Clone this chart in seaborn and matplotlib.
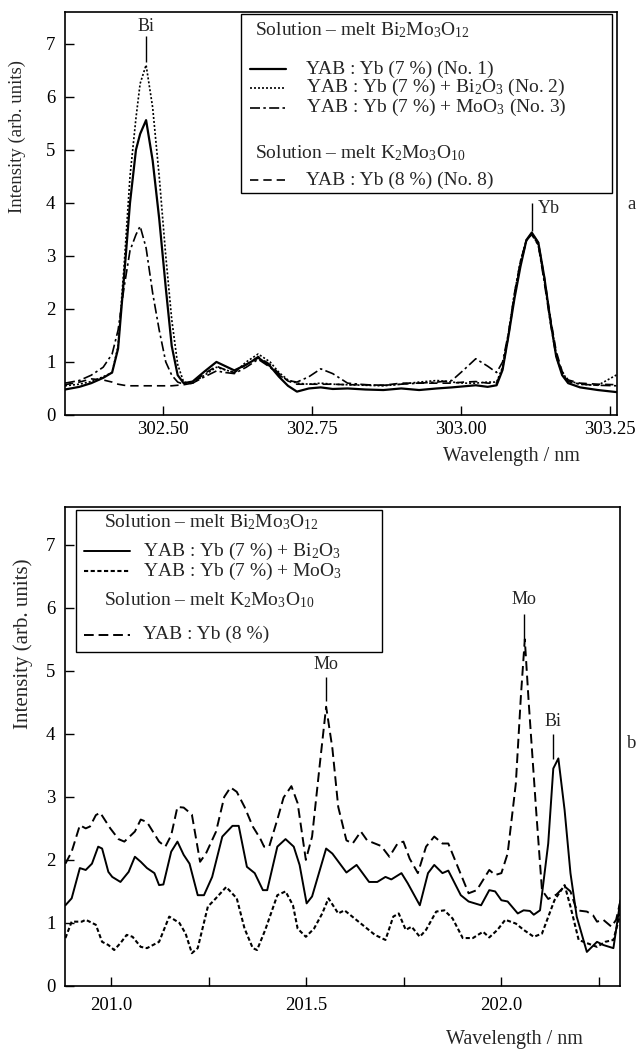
import numpy as np
import pandas as pd
import seaborn as sns
import matplotlib
matplotlib.use("Agg")
import matplotlib.pyplot as plt
from matplotlib.lines import Line2D
from matplotlib.patches import Rectangle

# ---------------- data: panel a (Yb / Bi region) ----------------
wl_a = [302.336, 302.36, 302.38, 302.40, 302.415, 302.425, 302.435, 302.445, 302.455, 302.462,
        302.472, 302.483, 302.494, 302.505, 302.515, 302.525, 302.535, 302.55, 302.57, 302.59,
        302.605, 302.62, 302.64, 302.66, 302.68, 302.695, 302.71, 302.725, 302.745, 302.765,
        302.785, 302.81, 302.84, 302.87, 302.90, 302.93, 302.96, 302.985, 303.005, 303.025,
        303.045, 303.06, 303.07, 303.08, 303.09, 303.10, 303.11, 303.119, 303.13, 303.14,
        303.15, 303.16, 303.17, 303.18, 303.20, 303.23, 303.262]

no1 = [0.48, 0.53, 0.60, 0.70, 0.80, 1.25, 2.6, 4.0, 5.0, 5.3,
       5.56, 4.8, 3.7, 2.4, 1.3, 0.75, 0.60, 0.63, 0.82, 1.00,
       0.92, 0.84, 0.95, 1.08, 0.92, 0.72, 0.55, 0.44, 0.50, 0.52,
       0.49, 0.50, 0.48, 0.47, 0.50, 0.47, 0.50, 0.52, 0.54, 0.56,
       0.53, 0.56, 0.85, 1.5, 2.2, 2.8, 3.3, 3.44, 3.25, 2.6,
       1.8, 1.1, 0.75, 0.60, 0.52, 0.47, 0.43]

no2 = [0.55, 0.58, 0.63, 0.72, 0.80, 1.3, 2.8, 4.5, 5.6, 6.25,
       6.6, 5.8, 4.5, 3.0, 1.8, 0.95, 0.62, 0.60, 0.75, 0.90,
       0.85, 0.80, 1.00, 1.15, 1.00, 0.80, 0.66, 0.60, 0.58, 0.60,
       0.58, 0.57, 0.56, 0.55, 0.58, 0.62, 0.65, 0.62, 0.60, 0.60,
       0.62, 0.62, 0.90, 1.55, 2.3, 2.9, 3.3, 3.42, 3.2, 2.55,
       1.8, 1.15, 0.80, 0.65, 0.58, 0.56, 0.76]

no3 = [0.60, 0.65, 0.75, 0.90, 1.15, 1.6, 2.4, 3.1, 3.4, 3.56,
       3.15, 2.3, 1.6, 1.0, 0.75, 0.62, 0.58, 0.60, 0.72, 0.83,
       0.80, 0.78, 0.90, 1.05, 0.90, 0.75, 0.65, 0.62, 0.72, 0.87,
       0.78, 0.60, 0.57, 0.56, 0.58, 0.60, 0.62, 0.65, 0.85, 1.06,
       0.92, 0.80, 1.0, 1.55, 2.3, 2.9, 3.3, 3.40, 3.2, 2.5,
       1.75, 1.1, 0.78, 0.63, 0.58, 0.56, 0.55]

no8 = [0.57, 0.62, 0.68, 0.66, 0.62, 0.58, 0.56, 0.55, 0.55, 0.55,
       0.55, 0.55, 0.55, 0.55, 0.55, 0.56, 0.57, 0.60, 0.78, 0.92,
       0.85, 0.80, 0.95, 1.10, 0.95, 0.78, 0.64, 0.58, 0.58, 0.58,
       0.58, 0.57, 0.57, 0.56, 0.60, 0.60, 0.60, 0.60, 0.62, 0.63,
       0.60, 0.60, 0.88, 1.5, 2.25, 2.85, 3.28, 3.43, 3.25, 2.6,
       1.85, 1.2, 0.82, 0.66, 0.60, 0.58, 0.57]

# ---------------- data: panel b (Mo / Bi region) ----------------
wl_b_k = [200.883, 200.899, 200.920, 200.935, 200.946, 200.961, 200.972, 200.998, 201.019, 201.034,
          201.061, 201.076, 201.092, 201.123, 201.139, 201.154, 201.170, 201.186, 201.207, 201.228,
          201.243, 201.269, 201.290, 201.306, 201.322, 201.342, 201.363, 201.382, 201.392, 201.405,
          201.426, 201.442, 201.462, 201.478, 201.499, 201.515, 201.535, 201.551, 201.567, 201.582,
          201.603, 201.619, 201.640, 201.656, 201.676, 201.692, 201.713, 201.734, 201.749, 201.765,
          201.786, 201.807, 201.828, 201.849, 201.864, 201.885, 201.916, 201.937, 201.969, 201.984,
          202.000, 202.016, 202.037, 202.050, 202.060, 202.070, 202.089, 202.104, 202.120, 202.141,
          202.162, 202.177, 202.193, 202.219, 202.235, 202.245, 202.261, 202.282, 202.294, 202.305]
k2mo = [1.94, 2.13, 2.55, 2.50, 2.53, 2.71, 2.75, 2.50, 2.33, 2.29,
        2.45, 2.64, 2.60, 2.29, 2.21, 2.39, 2.84, 2.83, 2.72, 1.97,
        2.10, 2.45, 3.00, 3.15, 3.08, 2.84, 2.53, 2.34, 2.21, 2.21,
        2.64, 2.99, 3.17, 2.90, 2.00, 2.37, 3.53, 4.43, 3.77, 2.84,
        2.31, 2.26, 2.45, 2.31, 2.26, 2.22, 2.05, 2.26, 2.29, 2.02,
        1.79, 2.21, 2.37, 2.26, 2.26, 1.94, 1.47, 1.52, 1.84, 1.76,
        1.79, 2.10, 3.21, 4.6, 5.5, 4.5, 2.79, 1.52, 1.38, 1.45,
        1.58, 1.50, 1.20, 1.18, 1.12, 1.02, 1.05, 0.94, 1.05, 1.35]

wl_b_bi = [200.883, 200.899, 200.920, 200.935, 200.951, 200.967, 200.977, 200.993, 201.003, 201.024,
           201.045, 201.061, 201.076, 201.092, 201.111, 201.123, 201.134, 201.154, 201.170, 201.186,
           201.201, 201.222, 201.238, 201.259, 201.285, 201.311, 201.327, 201.348, 201.368, 201.389,
           201.400, 201.426, 201.447, 201.468, 201.483, 201.501, 201.515, 201.551, 201.567, 201.603,
           201.629, 201.661, 201.682, 201.703, 201.718, 201.744, 201.760, 201.791, 201.812, 201.828,
           201.849, 201.864, 201.896, 201.916, 201.948, 201.969, 201.984, 202.000, 202.016, 202.042,
           202.057, 202.073, 202.083, 202.099, 202.120, 202.133, 202.146, 202.162, 202.177, 202.193,
           202.219, 202.245, 202.261, 202.287, 202.305]
bi2o3 = [1.28, 1.39, 1.87, 1.84, 1.94, 2.21, 2.18, 1.81, 1.73, 1.65,
         1.81, 2.05, 1.97, 1.87, 1.79, 1.60, 1.61, 2.13, 2.29, 2.08,
         1.94, 1.44, 1.44, 1.73, 2.37, 2.54, 2.54, 1.89, 1.79, 1.52,
         1.52, 2.21, 2.33, 2.21, 1.92, 1.31, 1.42, 2.18, 2.10, 1.80,
         1.92, 1.65, 1.65, 1.73, 1.69, 1.79, 1.63, 1.28, 1.79, 1.92,
         1.79, 1.83, 1.44, 1.34, 1.28, 1.52, 1.50, 1.36, 1.34, 1.15,
         1.20, 1.19, 1.13, 1.20, 2.26, 3.45, 3.61, 2.79, 1.79, 1.10,
         0.54, 0.70, 0.65, 0.60, 1.36]

wl_b_mo = [200.883, 200.899, 200.925, 200.935, 200.961, 200.977, 200.993, 201.008, 201.024, 201.040,
           201.055, 201.076, 201.092, 201.123, 201.149, 201.175, 201.191, 201.207, 201.222, 201.248,
           201.264, 201.295, 201.322, 201.342, 201.363, 201.374, 201.395, 201.426, 201.447, 201.466,
           201.478, 201.499, 201.520, 201.541, 201.557, 201.582, 201.598, 201.624, 201.656, 201.676,
           201.703, 201.723, 201.737, 201.755, 201.770, 201.791, 201.807, 201.833, 201.854, 201.875,
           201.901, 201.927, 201.953, 201.969, 201.990, 202.010, 202.037, 202.057, 202.083, 202.104,
           202.136, 202.162, 202.177, 202.198, 202.219, 202.245, 202.266, 202.287, 202.305]
moo3 = [0.76, 1.02, 1.02, 1.05, 0.97, 0.70, 0.65, 0.57, 0.68, 0.81,
        0.78, 0.62, 0.60, 0.70, 1.10, 1.00, 0.83, 0.52, 0.60, 1.26,
        1.36, 1.57, 1.39, 0.91, 0.60, 0.57, 0.89, 1.44, 1.50, 1.28,
        0.91, 0.78, 0.91, 1.15, 1.39, 1.15, 1.20, 1.07, 0.91, 0.81,
        0.73, 1.10, 1.15, 0.89, 0.94, 0.78, 0.89, 1.18, 1.20, 1.07,
        0.76, 0.76, 0.86, 0.77, 0.89, 1.05, 0.99, 0.89, 0.78, 0.83,
        1.36, 1.60, 1.26, 0.73, 0.68, 0.62, 0.70, 0.73, 1.15]

# peak markers: label, wavelength, line from, line to, text y
peaks_a = [("Bi", 302.472, 6.65, 7.15, 7.33), ("Yb", 303.119, 3.47, 4.0, 3.9)]
peaks_b = [("Mo", 201.551, 4.52, 4.9, 5.1), ("Mo", 202.057, 5.5, 5.9, 6.13),
           ("Bi", 202.133, 3.6, 4.0, 4.2)]

xticks_a = [302.50, 302.75, 303.00, 303.25]
xticks_b = [201.0, 201.5, 202.0]
xminor_b = [201.25, 201.75, 202.25]

# ---------------- style ----------------
sns.set_style("ticks", {"xtick.direction": "in", "ytick.direction": "in"})
plt.rcParams["font.family"] = ["Liberation Serif", "DejaVu Serif"]
plt.rcParams["mathtext.fontset"] = "custom"
plt.rcParams["mathtext.rm"] = "Liberation Serif"
plt.rcParams["mathtext.it"] = "Liberation Serif:italic"
plt.rcParams["mathtext.bf"] = "Liberation Serif:bold"

FS_TICK = 13.5
FS_KEY = 14
FS_PEAK = 13
FS_XLAB = 14.5

solid_a = dict(linestyle="-", linewidth=1.6)
dot_a = dict(linestyle=(0, (1.2, 1.2)), linewidth=1.2)
dashdot_a = dict(linestyle=(0, (6, 2, 1.5, 2)), linewidth=1.2)
dash_a = dict(linestyle=(0, (5, 3)), linewidth=1.2)

solid_b = dict(linestyle="-", linewidth=1.4)
dot_b = dict(linestyle=(0, (2, 1.2)), linewidth=1.5)
dash_b = dict(linestyle=(0, (5, 2.5)), linewidth=1.4)


def draw_key(ax, box, headers, entries, line_x, text_x):
    ax.add_patch(Rectangle((box[0], box[1]), box[2] - box[0], box[3] - box[1],
                           transform=ax.transAxes, fill=False, ec="k", lw=1.0, zorder=5))
    for hx, hy, s in headers:
        ax.text(hx, hy, s, transform=ax.transAxes, ha="left", va="center", fontsize=FS_KEY)
    for ey, s, st in entries:
        ax.add_artist(Line2D(line_x, [ey, ey], transform=ax.transAxes, color="k", **st))
        ax.text(text_x, ey, s, transform=ax.transAxes, ha="left", va="center", fontsize=FS_KEY)


def mark_peaks(ax, peaks, text_right=()):
    for lab, x, y0, y1, ty in peaks:
        ax.vlines(x, y0, y1, color="k", lw=1.0)
        if lab in text_right:
            ax.text(x + 0.01, ty, lab, ha="left", va="center", fontsize=FS_PEAK)
        else:
            ax.text(x, ty, lab, ha="center", va="center", fontsize=FS_PEAK)


def style_axes(ax, ylab_size, xpad):
    for sp in ax.spines.values():
        sp.set_linewidth(1.2)
        sp.set_color("k")
    ax.tick_params(axis="both", which="both", direction="in", length=6.5, width=1.0,
                   labelsize=FS_TICK, colors="k")
    ax.tick_params(axis="y", pad=7)
    ax.tick_params(axis="x", pad=xpad)
    ax.set_ylim(0, 7.6)
    ax.set_yticks(range(8))
    ax.set_ylabel("Intensity (arb. units)", fontsize=ylab_size)
    ax.set_xlabel("Wavelength / nm", fontsize=FS_XLAB, loc="right")


fig = plt.figure(figsize=(6.4, 10.5), dpi=100)
ax1 = fig.add_axes([0.1016, 0.6048, 0.8625, 0.3838])
ax2 = fig.add_axes([0.1016, 0.0610, 0.8672, 0.4562])

# panel a
for y, st in [(no8, dash_a), (no3, dashdot_a), (no2, dot_a), (no1, solid_a)]:
    sns.lineplot(x=wl_a, y=y, ax=ax1, color="k", errorbar=None, **st)
ax1.set_xlim(302.336, 303.262)
ax1.set_xticks(xticks_a)
ax1.set_xticklabels([f"{v:.2f}" for v in xticks_a])
style_axes(ax1, 13.5, 4.5)
mark_peaks(ax1, peaks_a, text_right=("Yb",))
ax1.yaxis.set_label_coords(-0.07, 0.69)
ax1.xaxis.set_label_coords(0.933, -0.08)

draw_key(ax1, (0.319, 0.551, 0.991, 0.995),
         [(0.344, 0.955, r"Solution – melt Bi$_2$Mo$_3$O$_{12}$"),
          (0.344, 0.650, r"Solution – melt K$_2$Mo$_3$O$_{10}$")],
         [(0.858, "YAB : Yb (7 %) (No. 1)", solid_a),
          (0.812, r"YAB : Yb (7 %) + Bi$_2$O$_3$ (No. 2)", dot_a),
          (0.762, r"YAB : Yb (7 %) + MoO$_3$ (No. 3)", dashdot_a),
          (0.583, "YAB : Yb (8 %) (No. 8)", dash_a)],
         (0.335, 0.400), 0.437)

# panel b
for xx, y, st in [(wl_b_k, k2mo, dash_b), (wl_b_mo, moo3, dot_b), (wl_b_bi, bi2o3, solid_b)]:
    sns.lineplot(x=xx, y=y, ax=ax2, color="k", errorbar=None, **st)
ax2.set_xlim(200.882, 202.304)
ax2.set_xticks(xticks_b)
ax2.set_xticklabels([f"{v:.1f}" for v in xticks_b])
ax2.set_xticks(xminor_b, minor=True)
style_axes(ax2, 15, 8)
mark_peaks(ax2, peaks_b)
ax2.yaxis.set_label_coords(-0.058, 0.715)
ax2.xaxis.set_label_coords(0.933, -0.092)

draw_key(ax2, (0.019, 0.697, 0.571, 0.994),
         [(0.070, 0.969, r"Solution – melt Bi$_2$Mo$_3$O$_{12}$"),
          (0.070, 0.806, r"Solution – melt K$_2$Mo$_3$O$_{10}$")],
         [(0.908, r"YAB : Yb (7 %) + Bi$_2$O$_3$", solid_b),
          (0.866, r"YAB : Yb (7 %) + MoO$_3$", dot_b),
          (0.733, "YAB : Yb (8 %)", dash_b)],
         (0.034, 0.117), 0.141)

fig.text(0.9875, 0.805, "a", fontsize=13.5, ha="center", va="center")
fig.text(0.9875, 0.292, "b", fontsize=13.5, ha="center", va="center")

fig.savefig("out.png", dpi=100)
